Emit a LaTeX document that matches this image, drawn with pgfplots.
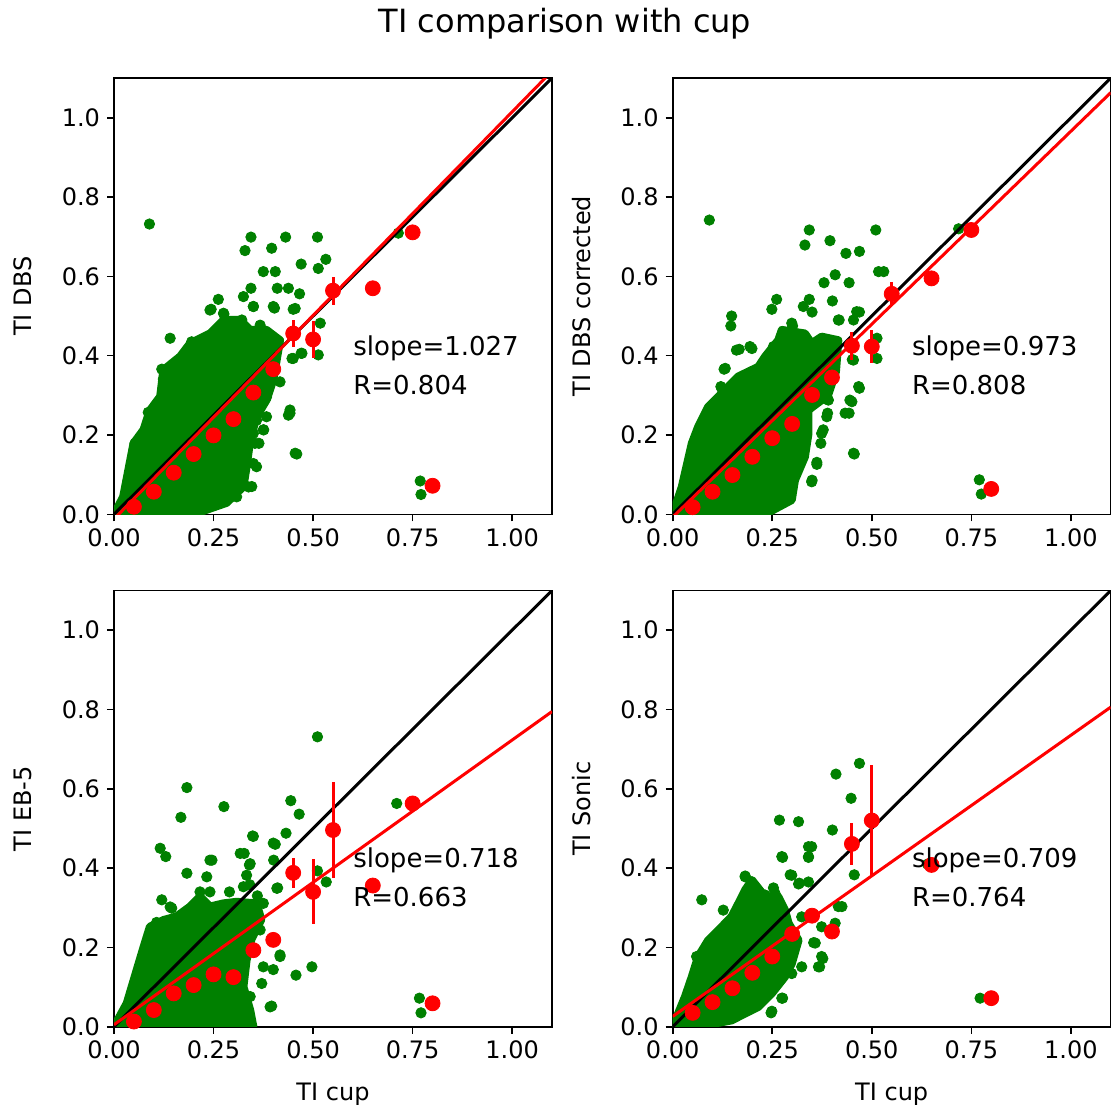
\documentclass[border=0pt]{standalone}
\usepackage{fontspec}
\setmainfont{DejaVu Sans}
\usepackage{pgfplots}
\pgfplotsset{compat=1.18}
\definecolor{mgreen}{RGB}{0,128,0}
\definecolor{mred}{RGB}{255,0,0}
\pgfplotsset{
 panel/.style={
  scale only axis, width=219pt, height=218.1pt,
  xmin=0,xmax=1.1,ymin=0,ymax=1.1,
  xtick={0,0.25,0.5,0.75,1.0},
  ytick={0,0.2,0.4,0.6,0.8,1.0},
  xticklabels={0.00,0.25,0.50,0.75,1.00},
  yticklabels={0.0,0.2,0.4,0.6,0.8,1.0},
  tick align=outside, tick pos=left,
  major tick length=3.5pt,
  every tick/.style={black, line width=0.8pt},
  axis line style={line width=0.8pt},
  tick label style={font=\fontsize{12}{14}\selectfont},
  label style={font=\fontsize{12}{14}\selectfont},
  xlabel style={yshift=-5pt},
  ylabel style={yshift=8pt},
  clip mode=individual,
 },
 core/.style={draw=mgreen, fill=mgreen, line width=4pt, line join=round, mark=none},
 gdots/.style={only marks, mark=*, mark size=2.6pt, mgreen, mark options={draw=mgreen, fill=mgreen}},
 rdots/.style={only marks, mark=*, mark size=3.75pt, mred, mark options={draw=mred, fill=mred},
   error bars/.cd, y dir=both, y explicit, error bar style={line width=1.5pt, mred}, error mark=none},
 blk/.style={black, line width=1.5pt, mark=none},
 rl/.style={mred, line width=1.5pt, mark=none},
}
\newcommand{\anno}[2]{\node[anchor=south west, align=left, font=\fontsize{13}{19.5}\selectfont, inner sep=0pt] at (axis cs:0.6,0.3) {#1\\#2};}
\begin{document}
\begin{tikzpicture}
\path[use as bounding box] (0,0) rectangle (555.5pt,-556.5pt);
\node[font=\fontsize{16}{19}\selectfont] at (282.5pt,-12pt) {TI comparison with cup};

% ---------------- top left
\begin{axis}[panel, at={(57pt,-257.15pt)}, anchor=south west, ylabel={TI DBS}]
\addplot[core] coordinates {(0,0)(0.023,0.044)(0.049,0.179)(0.074,0.213)(0.09,0.262)(0.116,0.297)(0.124,0.364)(0.166,0.398)(0.191,0.431)(0.241,0.456)(0.275,0.49)(0.317,0.49)(0.342,0.465)(0.383,0.465)(0.417,0.439)(0.4,0.339)(0.383,0.288)(0.358,0.246)(0.342,0.187)(0.333,0.12)(0.325,0.07)(0.283,0.029)(0.2,0.0)(0,0)};
\addplot[gdots] coordinates {(0.089,0.732)(0.344,0.699)(0.431,0.699)(0.511,0.699)(0.329,0.665)(0.396,0.671)(0.47,0.631)(0.532,0.643)(0.513,0.62)(0.375,0.612)(0.405,0.612)(0.344,0.57)(0.41,0.57)(0.438,0.57)(0.466,0.556)(0.325,0.549)(0.262,0.542)(0.244,0.517)(0.35,0.524)(0.403,0.52)(0.45,0.517)(0.276,0.505)(0.141,0.444)(0.518,0.482)(0.513,0.402)(0.47,0.406)(0.45,0.393)(0.417,0.334)(0.442,0.263)(0.438,0.25)(0.459,0.152)(0.375,0.213)(0.364,0.179)(0.358,0.12)(0.346,0.07)(0.769,0.084)(0.771,0.05)(0.714,0.709)
(0.12,0.366)(0.124,0.341)(0.086,0.257)(0.053,0.179)(0.195,0.435)(0.233,0.423)(0.258,0.456)(0.241,0.515)(0.275,0.507)(0.35,0.524)(0.321,0.49)(0.367,0.477)(0.4,0.524)(0.455,0.519)(0.472,0.406)(0.447,0.393)(0.383,0.296)(0.358,0.237)(0.383,0.246)(0.376,0.213)(0.35,0.204)(0.354,0.179)(0.325,0.128)(0.35,0.128)(0.338,0.069)(0.442,0.255)(0.455,0.154)(0.308,0.044)(0.266,0.107)};
\addplot[blk] coordinates {(0,0)(1.1,1.1)};
\addplot[rl] coordinates {(0,-0.012)(1.1,1.1177)};
\addplot[rdots] table[x=x,y=y,y error=e] {
x y e
0.05 0.019 0.004
0.10 0.057 0.004
0.15 0.105 0.004
0.20 0.152 0.005
0.25 0.199 0.005
0.30 0.240 0.008
0.35 0.307 0.010
0.40 0.366 0.012
0.45 0.456 0.035
0.50 0.441 0.046
0.55 0.564 0.035
0.65 0.570 0
0.75 0.711 0
0.80 0.072 0
};
\anno{slope=1.027}{R=0.804}
\end{axis}

% ---------------- top right
\begin{axis}[panel, at={(336.35pt,-257.15pt)}, anchor=south west, ylabel={TI DBS corrected}]
\addplot[core] coordinates {(0,0)(0.023,0.07)(0.048,0.179)(0.064,0.221)(0.089,0.271)(0.123,0.305)(0.164,0.347)(0.182,0.356)(0.215,0.372)(0.232,0.398)(0.265,0.439)(0.274,0.465)(0.332,0.456)(0.349,0.431)(0.374,0.448)(0.416,0.439)(0.41,0.36)(0.39,0.3)(0.341,0.263)(0.341,0.204)(0.332,0.145)(0.307,0.086)(0.299,0.036)(0.232,0.0)(0,0)};
\addplot[gdots] coordinates {(0.092,0.742)(0.343,0.717)(0.51,0.717)(0.332,0.679)(0.395,0.69)(0.435,0.658)(0.469,0.663)(0.517,0.612)(0.53,0.612)(0.408,0.604)(0.38,0.584)(0.443,0.584)(0.261,0.542)(0.249,0.517)(0.343,0.542)(0.401,0.538)(0.328,0.524)(0.35,0.51)(0.469,0.51)(0.418,0.49)(0.454,0.49)(0.146,0.475)(0.301,0.475)(0.513,0.444)(0.513,0.393)(0.451,0.39)(0.469,0.318)(0.45,0.284)(0.443,0.255)(0.387,0.29)(0.389,0.255)(0.378,0.213)(0.372,0.179)(0.362,0.126)(0.349,0.082)(0.456,0.152)(0.129,0.366)(0.121,0.322)(0.077,0.23)(0.77,0.087)(0.775,0.051)(0.718,0.72)(0.167,0.416)(0.194,0.423)
(0.148,0.5)(0.16,0.414)(0.199,0.418)(0.132,0.368)(0.123,0.318)(0.073,0.221)(0.299,0.482)(0.253,0.423)(0.37,0.414)(0.416,0.49)(0.462,0.511)(0.454,0.389)(0.467,0.322)(0.445,0.288)(0.433,0.255)(0.387,0.246)(0.374,0.204)(0.362,0.131)(0.35,0.086)(0.454,0.154)(0.391,0.288)};
\addplot[blk] coordinates {(0,0)(1.1,1.1)};
\addplot[rl] coordinates {(0,-0.007)(1.1,1.0633)};
\addplot[rdots] table[x=x,y=y,y error=e] {
x y e
0.05 0.018 0.004
0.10 0.057 0.004
0.15 0.099 0.004
0.20 0.145 0.005
0.25 0.192 0.005
0.30 0.228 0.008
0.35 0.301 0.010
0.40 0.345 0.012
0.45 0.425 0.035
0.50 0.423 0.041
0.55 0.556 0.030
0.65 0.595 0
0.75 0.717 0
0.80 0.064 0
};
\anno{slope=0.973}{R=0.808}
\end{axis}

% ---------------- bottom left
\begin{axis}[panel, at={(57pt,-513.35pt)}, anchor=south west, ylabel={TI EB-5}, xlabel={TI cup}]
\addplot[core] coordinates {(0,0)(0.032,0.059)(0.057,0.143)(0.074,0.2)(0.09,0.252)(0.124,0.269)(0.157,0.278)(0.191,0.303)(0.216,0.328)(0.241,0.303)(0.275,0.311)(0.308,0.315)(0.358,0.311)(0.37,0.27)(0.345,0.22)(0.333,0.168)(0.325,0.101)(0.342,0.042)(0.35,0.0)(0,0)};
\addplot[gdots] coordinates {(0.511,0.731)(0.183,0.603)(0.276,0.555)(0.168,0.528)(0.444,0.57)(0.465,0.536)(0.71,0.563)(0.116,0.45)(0.13,0.429)(0.348,0.481)(0.432,0.488)(0.405,0.46)(0.327,0.437)(0.183,0.387)(0.246,0.42)(0.233,0.378)(0.34,0.408)(0.341,0.358)(0.411,0.35)(0.401,0.42)(0.12,0.32)(0.141,0.302)(0.511,0.393)(0.533,0.365)(0.417,0.181)(0.497,0.151)(0.457,0.13)(0.4,0.144)(0.396,0.052)(0.767,0.072)(0.771,0.035)
(0.241,0.42)(0.145,0.299)(0.095,0.245)(0.216,0.34)(0.241,0.34)(0.317,0.437)(0.342,0.411)(0.333,0.382)(0.325,0.353)(0.35,0.48)(0.4,0.463)(0.409,0.349)(0.375,0.311)(0.367,0.244)(0.417,0.177)(0.375,0.151)(0.371,0.109)(0.392,0.05)(0.342,0.076)(0.107,0.263)(0.157,0.263)(0.29,0.34)(0.36,0.33)};
\addplot[blk] coordinates {(0,0)(1.1,1.1)};
\addplot[rl] coordinates {(0,0.005)(1.1,0.7948)};
\addplot[rdots] table[x=x,y=y,y error=e] {
x y e
0.05 0.013 0.004
0.10 0.042 0.004
0.15 0.084 0.004
0.20 0.105 0.005
0.25 0.132 0.006
0.30 0.125 0.008
0.35 0.193 0.012
0.40 0.219 0.015
0.45 0.388 0.038
0.50 0.340 0.082
0.55 0.496 0.120
0.65 0.356 0
0.75 0.563 0
0.80 0.059 0
};
\anno{slope=0.718}{R=0.663}
\end{axis}

% ---------------- bottom right
\begin{axis}[panel, at={(336.35pt,-513.35pt)}, anchor=south west, ylabel={TI Sonic}, xlabel={TI cup}]
\addplot[core] coordinates {(0,0)(0.031,0.076)(0.048,0.126)(0.064,0.177)(0.089,0.218)(0.123,0.252)(0.148,0.278)(0.165,0.311)(0.182,0.345)(0.199,0.37)(0.232,0.328)(0.265,0.328)(0.282,0.294)(0.291,0.261)(0.316,0.218)(0.299,0.159)(0.282,0.126)(0.249,0.084)(0.215,0.05)(0.148,0.016)(0.064,0.0)(0,0)};
\addplot[gdots] coordinates {(0.469,0.664)(0.41,0.637)(0.448,0.576)(0.268,0.521)(0.316,0.517)(0.401,0.496)(0.349,0.454)(0.276,0.427)(0.341,0.427)(0.456,0.383)(0.295,0.383)(0.318,0.362)(0.182,0.38)(0.073,0.32)(0.253,0.35)(0.341,0.365)(0.425,0.303)(0.354,0.212)(0.377,0.172)(0.369,0.151)(0.276,0.072)(0.247,0.035)(0.772,0.072)(0.64,0.41)
(0.127,0.294)(0.173,0.315)(0.182,0.378)(0.207,0.345)(0.232,0.332)(0.257,0.336)(0.224,0.299)(0.274,0.429)(0.299,0.382)(0.316,0.36)(0.341,0.454)(0.341,0.429)(0.324,0.277)(0.374,0.252)(0.358,0.211)(0.374,0.177)(0.324,0.151)(0.366,0.151)(0.299,0.134)(0.274,0.072)(0.249,0.039)(0.19,0.042)(0.06,0.177)(0.416,0.303)(0.408,0.261)};
\addplot[blk] coordinates {(0,0)(1.1,1.1)};
\addplot[rl] coordinates {(0,0.026)(1.1,0.8059)};
\addplot[rdots] table[x=x,y=y,y error=e] {
x y e
0.05 0.035 0.004
0.10 0.062 0.004
0.15 0.097 0.004
0.20 0.136 0.005
0.25 0.177 0.006
0.30 0.234 0.008
0.35 0.280 0.012
0.40 0.240 0.015
0.45 0.461 0.053
0.50 0.520 0.140
0.65 0.408 0
0.80 0.072 0
};
\anno{slope=0.709}{R=0.764}
\end{axis}
\end{tikzpicture}
\end{document}
